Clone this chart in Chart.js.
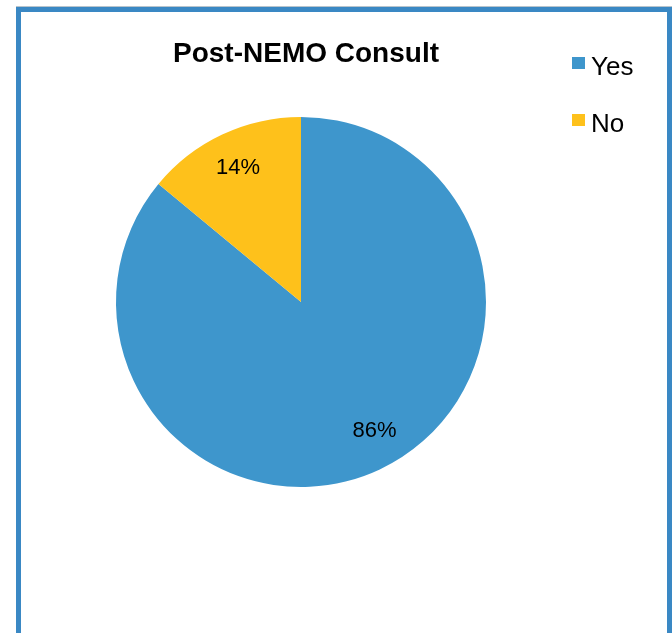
<!DOCTYPE html>
<html>
<head>
<meta charset="utf-8">
<script src="https://cdn.jsdelivr.net/npm/chart.js@4/dist/chart.umd.min.js"></script>
<style>
  body { margin: 0; background: #fff; overflow: hidden; }
  #frame {
    position: absolute; left: 16px; top: 7px; width: 656px; height: 700px;
    border: 5px solid #3a88c4; border-bottom: none; box-sizing: border-box;
    box-shadow: 0 -1px 0 #b8c4cc;
  }
  #myChart { position: absolute; left: 0; top: 0; }
</style>
</head>
<body>
<div id="frame"></div>
<canvas id="myChart" width="672" height="633"></canvas>
<script>
const titulo = 'Post-NEMO Consult';
const categorias = ['Yes', 'No'];
const valores = [86, 14];
const cores = ['#3e96cc', '#fec11b'];

// desenha titulo, legenda e rotulos de porcentagem
const extras = {
    id: 'extras',
    afterDatasetsDraw(chart) {
        const c = chart.ctx;
        c.save();
        c.fillStyle = '#000';

        // titulo
        c.font = 'bold 28px "Liberation Sans", Arial, sans-serif';
        c.textAlign = 'center';
        c.textBaseline = 'alphabetic';
        c.fillText(titulo, 306, 62);

        // legenda
        c.font = '26px "Liberation Sans", Arial, sans-serif';
        c.textAlign = 'left';
        categorias.forEach(function (cat, i) {
            const y = 75 + i * 57;
            c.fillStyle = cores[i];
            c.fillRect(572, y - 18, 13, 12);
            c.fillStyle = '#000';
            c.fillText(cat, 591, y);
        });

        // porcentagens
        const total = valores.reduce((a, b) => a + b, 0);
        c.font = '22px "Liberation Sans", Arial, sans-serif';
        c.textAlign = 'center';
        c.textBaseline = 'middle';
        chart.getDatasetMeta(0).data.forEach(function (arc, i) {
            const p = arc.getProps(['x', 'y', 'startAngle', 'endAngle', 'outerRadius'], true);
            const meio = (p.startAngle + p.endAngle) / 2 - (i === 0 ? 0.08 : 0);
            const r = p.outerRadius * 0.8;
            const txt = Math.round(valores[i] / total * 100) + '%';
            c.fillText(txt, p.x + Math.cos(meio) * r, p.y + Math.sin(meio) * r);
        });
        c.restore();
    }
};

const ctx = document.getElementById('myChart').getContext('2d');
const myChart = new Chart(ctx, {
    type: 'pie',
    data: {
        labels: categorias,
        datasets: [{
            data: valores,
            backgroundColor: cores,
            borderWidth: 0
        }]
    },
    options: {
        responsive: false,
        animation: false,
        layout: {
            padding: { left: 116, right: 186, top: 117, bottom: 146 }
        },
        plugins: {
            legend: { display: false },
            title: { display: false },
            tooltip: { enabled: false }
        }
    },
    plugins: [extras]
});
</script>
</body>
</html>
